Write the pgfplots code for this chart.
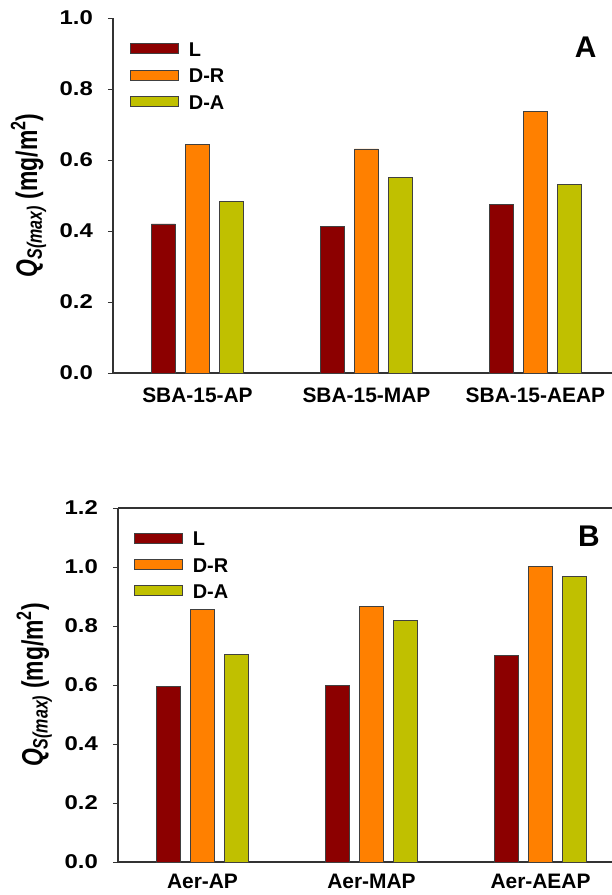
\documentclass[border=0pt]{standalone}
\usepackage{fontspec}
\setmainfont{Liberation Sans}
\usepackage{graphicx}
\usepackage{pgfplots}
\pgfplotsset{compat=1.18}
\definecolor{cL}{RGB}{140,0,0}
\definecolor{cDR}{RGB}{255,128,0}
\definecolor{cDA}{RGB}{192,192,0}
\newcommand{\fs}{\fontsize{20}{24}\selectfont\bfseries}
\pgfplotsset{
  common/.style={
    scale only axis,
    ybar=10bp, bar width=24bp,
    xmin=-0.5, ymin=0,
    xtick={0,1,2},
    xtick style={draw=none},
    ytick pos=left,
    tick align=outside,
    major tick length=5bp,
    ytick style={line width=1bp, black!80},
    axis line style={line width=1.2bp, black!80},
    tick label style={font=\fs},
    yticklabel={\scalebox{1.2}[1]{\pgfmathprintnumber[fixed,fixed zerofill,precision=1,assume math mode=true]{\tick}}},
    yticklabel style={inner sep=0pt, xshift=-15bp},
    xticklabel style={inner sep=0pt, anchor=north, font=\fontsize{21}{24}\selectfont\bfseries},
    ylabel={\scalebox{1}[1.3]{\fontsize{23}{26}\selectfont\bfseries\textit{Q}\textsubscript{\textit{S(max)}} (mg/m\textsuperscript{2})}},
    ylabel style={at={(axis description cs:-0.152,0.5)}, anchor=base, rotate=0},
    legend image code/.code={\draw[#1] (0bp,-4bp) rectangle (48bp,6bp);},
    legend cell align=left,
    legend style={draw=none, fill=none, inner sep=0pt, row sep=12.3bp, font=\fs,
      nodes={inner sep=0pt, text height=14bp, text depth=0pt},
      /tikz/every odd column/.append style={column sep=10bp}},
    every axis plot/.append style={draw=black!75, line width=0.8bp},
  }
}
\begin{document}
\begin{tikzpicture}
\path[use as bounding box] (0,-895bp) rectangle (612bp,0);
% Panel A
\begin{axis}[common,
  at={(113bp,-373bp)}, anchor=south west,
  width=499bp, height=355bp,
  xmax=2.453, ymax=1.0,
  ytick={0,0.2,0.4,0.6,0.8,1.0},
  axis x line*=bottom, axis y line*=left,
  xticklabels={SBA-15-AP,SBA-15-MAP,SBA-15-AEAP},
  xticklabel style={yshift=-10bp},
  legend style={at={(axis description cs:0.034,0.931)}, anchor=north west},
]
\addplot[fill=cL] coordinates {(0,0.420) (1,0.413) (2,0.476)};
\addplot[fill=cDR] coordinates {(0,0.645) (1,0.631) (2,0.738)};
\addplot[fill=cDA] coordinates {(0,0.482) (1,0.552) (2,0.530)};
\legend{L,D-R,D-A}
\node[font=\bfseries\fontsize{30}{30}\selectfont, anchor=base east] at (axis description cs:0.976,0.89) {A};
\end{axis}
% Panel B
\begin{axis}[common,
  at={(118bp,-862bp)}, anchor=south west,
  width=494bp, height=354bp,
  xmax=2.423, ymax=1.2,
  ytick={0,0.2,0.4,0.6,0.8,1.0,1.2},
  axis x line*=box, axis y line*=left,
  xticklabels={Aer-AP,Aer-MAP,Aer-AEAP},
  xticklabel style={yshift=-7bp},
  legend style={at={(axis description cs:0.032,0.933)}, anchor=north west},
]
\addplot[fill=cL] coordinates {(0,0.594) (1,0.600) (2,0.699)};
\addplot[fill=cDR] coordinates {(0,0.855) (1,0.865) (2,1.003)};
\addplot[fill=cDA] coordinates {(0,0.704) (1,0.820) (2,0.967)};
\legend{L,D-R,D-A}
\node[font=\bfseries\fontsize{30}{30}\selectfont, anchor=base east] at (axis description cs:0.982,0.89) {B};
\end{axis}
\end{tikzpicture}
\end{document}
